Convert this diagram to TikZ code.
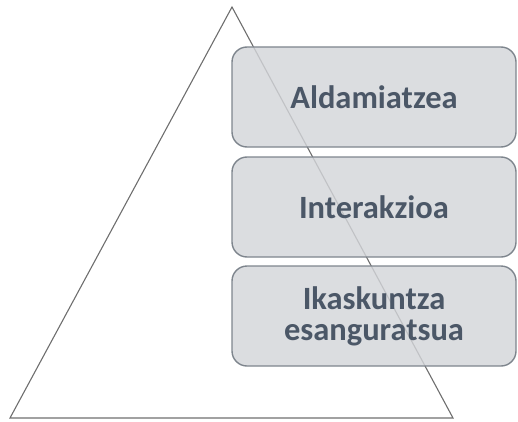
\documentclass[tikz,border=0pt]{standalone}
\usepackage{fontspec}
\setmainfont{Carlito}
\begin{document}
\begin{tikzpicture}[x=1pt,y=1pt,
  box/.style={draw=boxline, line width=1.4pt, fill=boxfill, fill opacity=0.82, text opacity=1,
    rounded corners=15pt, minimum width=284pt, minimum height=100pt, inner sep=0pt,
    align=center, text=boxtext, font=\fontsize{32.5}{31}\selectfont\bfseries},
  tri/.style={draw=triline, line width=1.1pt}]
\definecolor{boxfill}{HTML}{D3D5D9}
\definecolor{boxline}{HTML}{7E858D}
\definecolor{boxtext}{HTML}{4B5767}
\definecolor{triline}{HTML}{6E6E6E}
\useasboundingbox (0,0) rectangle (518,421);
\coordinate (apex) at (232,414);
\coordinate (bl) at (10,3);
\coordinate (br) at (453,3);
\draw[tri] (bl) -- (apex) -- (br) -- cycle;
\node[box] (b1) at (374,324) {Aldamiatzea};
\node[box] (b2) at (374,214) {Interakzioa};
\node[box] (b3) at (374,105) {Ikaskuntza\\esanguratsua};
\end{tikzpicture}
\end{document}
